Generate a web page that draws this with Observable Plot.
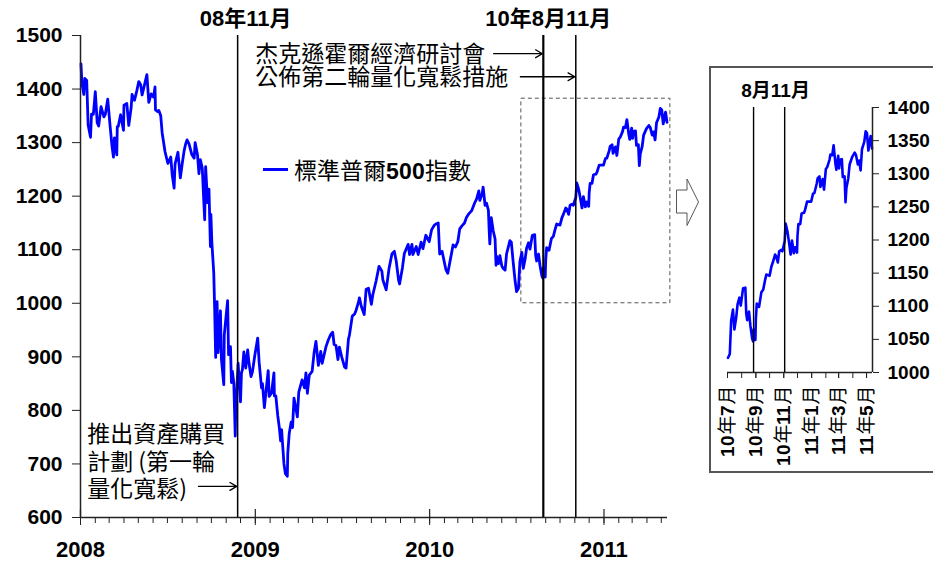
<!DOCTYPE html>
<html><head><meta charset="utf-8">
<script src="https://cdn.jsdelivr.net/npm/d3@7"></script>
<script src="https://cdn.jsdelivr.net/npm/@observablehq/plot@0.6"></script>
<style>
@font-face { font-family: "NumB"; src: local("Liberation Sans Bold"), local("LiberationSans-Bold"); unicode-range: U+0020-007E; }
html,body{margin:0;padding:0;background:#fff;overflow:hidden;width:933px;height:569px}
#wrap{position:relative;width:933px;height:569px;overflow:hidden}
#main{position:absolute;left:0;top:0}
#inset{position:absolute;left:709px;top:66px;width:240px;height:403px;border:2px solid #555;border-right:none;background:#fff}
#legend{position:absolute;left:263px;top:154px;height:30px;font:23px "NumB","Noto Sans CJK TC",sans-serif;display:flex;align-items:center;white-space:nowrap;color:#000}
#legend .sw{display:inline-block;width:25px;height:3px;background:#00f;margin-right:6px}
#bigarrow{position:absolute;left:676px;top:178px}
</style></head>
<body>
<div id="wrap">
  <div id="main"></div>
  <div id="legend"><span class="sw"></span><span id="legendText"></span></div>
  <svg id="bigarrow" width="24" height="49"><polygon points="0.5,12 11,12 11,1 22.5,24 11,47.5 11,35 0.5,35" fill="#fff" stroke="#555" stroke-width="1"/></svg>
  <div id="inset"></div>
</div>
<script>
// ---- data: S&P 500 closes ----
const dates = [
"2008-01-02","2008-01-04","2008-01-08","2008-01-10","2008-01-14","2008-01-17","2008-01-22","2008-01-24","2008-01-28","2008-02-01",
"2008-02-05","2008-02-08","2008-02-13","2008-02-19","2008-02-22","2008-02-27","2008-03-03","2008-03-07","2008-03-10","2008-03-12",
"2008-03-17","2008-03-18","2008-03-20","2008-03-25","2008-03-31","2008-04-01","2008-04-07","2008-04-11","2008-04-16","2008-04-18",
"2008-04-23","2008-04-28","2008-05-02","2008-05-06","2008-05-09","2008-05-13","2008-05-19","2008-05-23","2008-05-28","2008-06-02",
"2008-06-05","2008-06-06","2008-06-10","2008-06-13","2008-06-17","2008-06-20","2008-06-26","2008-07-02","2008-07-08","2008-07-11",
"2008-07-15","2008-07-17","2008-07-23","2008-07-28","2008-08-01","2008-08-05","2008-08-08","2008-08-11","2008-08-15","2008-08-21",
"2008-08-26","2008-08-28","2008-09-02","2008-09-05","2008-09-08","2008-09-12","2008-09-15","2008-09-17","2008-09-19","2008-09-23",
"2008-09-26","2008-09-29","2008-09-30","2008-10-02","2008-10-06","2008-10-08","2008-10-10","2008-10-13","2008-10-15","2008-10-17",
"2008-10-20","2008-10-22","2008-10-24","2008-10-27","2008-10-28","2008-11-04","2008-11-06","2008-11-10","2008-11-12","2008-11-14",
"2008-11-17","2008-11-20","2008-11-21","2008-11-24","2008-11-26","2008-12-01","2008-12-03","2008-12-05","2008-12-08","2008-12-12",
"2008-12-16","2008-12-19","2008-12-23","2008-12-26","2008-12-31",
"2009-01-06","2009-01-09","2009-01-14","2009-01-16","2009-01-20","2009-01-23","2009-01-28","2009-01-30","2009-02-04","2009-02-09",
"2009-02-10","2009-02-13","2009-02-17","2009-02-20","2009-02-23","2009-02-25","2009-03-02","2009-03-05","2009-03-09","2009-03-10",
"2009-03-13","2009-03-17","2009-03-20","2009-03-23","2009-03-30","2009-04-02","2009-04-09","2009-04-14","2009-04-17","2009-04-20",
"2009-04-24","2009-04-30","2009-05-04","2009-05-08","2009-05-13","2009-05-18","2009-05-21","2009-05-29","2009-06-03","2009-06-08",
"2009-06-12","2009-06-15","2009-06-19","2009-06-23","2009-06-26","2009-07-02","2009-07-07","2009-07-10","2009-07-15","2009-07-17",
"2009-07-23","2009-07-28","2009-07-31","2009-08-05","2009-08-07","2009-08-11","2009-08-17","2009-08-21","2009-08-26","2009-09-01",
"2009-09-04","2009-09-11","2009-09-17","2009-09-23","2009-09-25","2009-10-02","2009-10-08","2009-10-14","2009-10-19","2009-10-23",
"2009-10-28","2009-10-30","2009-11-05","2009-11-09","2009-11-17","2009-11-20","2009-11-25","2009-11-27","2009-12-04","2009-12-08",
"2009-12-14","2009-12-18","2009-12-24","2009-12-31",
"2010-01-05","2010-01-11","2010-01-14","2010-01-19","2010-01-22","2010-01-27","2010-02-04","2010-02-08","2010-02-12","2010-02-17",
"2010-02-19","2010-02-24","2010-03-01","2010-03-05","2010-03-10","2010-03-15","2010-03-19","2010-03-24","2010-03-30","2010-04-05",
"2010-04-09","2010-04-14","2010-04-16","2010-04-21","2010-04-23","2010-04-27","2010-04-30","2010-05-04","2010-05-06","2010-05-07",
"2010-05-10","2010-05-14","2010-05-18","2010-05-20","2010-05-21","2010-05-25","2010-05-28","2010-06-01","2010-06-04","2010-06-08",
"2010-06-11","2010-06-18","2010-06-21","2010-06-25","2010-06-29","2010-07-02","2010-07-06","2010-07-09","2010-07-13","2010-07-16",
"2010-07-20","2010-07-23","2010-07-27","2010-07-30","2010-08-04","2010-08-09","2010-08-11","2010-08-13","2010-08-17","2010-08-20",
"2010-08-24","2010-08-26","2010-08-27","2010-08-31","2010-09-01","2010-09-03","2010-09-08","2010-09-13","2010-09-17","2010-09-21",
"2010-09-24","2010-09-28","2010-10-01","2010-10-05","2010-10-08","2010-10-13","2010-10-15","2010-10-19","2010-10-22","2010-10-26",
"2010-10-29","2010-11-03","2010-11-05","2010-11-09","2010-11-12","2010-11-16","2010-11-19","2010-11-23","2010-11-26","2010-11-30",
"2010-12-01","2010-12-03","2010-12-07","2010-12-10","2010-12-15","2010-12-17","2010-12-22","2010-12-27","2010-12-31",
"2011-01-04","2011-01-07","2011-01-12","2011-01-14","2011-01-18","2011-01-20","2011-01-25","2011-01-28","2011-02-01","2011-02-04",
"2011-02-09","2011-02-11","2011-02-15","2011-02-18","2011-02-22","2011-02-24","2011-02-28","2011-03-02","2011-03-04","2011-03-08",
"2011-03-10","2011-03-14","2011-03-16","2011-03-18","2011-03-22","2011-03-25","2011-03-31","2011-04-05","2011-04-08","2011-04-12",
"2011-04-15","2011-04-18","2011-04-21","2011-04-26","2011-04-29","2011-05-02","2011-05-05","2011-05-10","2011-05-13"
];
const closes = [
1447,1411,1390,1420,1416,1333,1310,1353,1353,1395,
1337,1331,1367,1348,1353,1381,1331,1293,1273,1309,
1277,1330,1330,1352,1323,1370,1373,1332,1365,1390,
1379,1397,1414,1408,1389,1404,1427,1375,1391,1385,
1404,1361,1358,1360,1350,1318,1283,1261,1273,1240,
1215,1260,1282,1234,1261,1285,1297,1305,1298,1278,
1271,1300,1277,1242,1268,1252,1193,1156,1255,1188,
1213,1106,1166,1114,1057,985,899,1003,908,940,
986,896,877,848,941,1005,904,919,852,873,
851,752,800,852,888,816,870,876,909,879,
913,887,863,872,903,
935,890,842,850,805,832,874,826,832,870,
827,827,790,770,743,764,700,682,677,720,
757,778,768,823,788,834,857,842,870,832,
866,873,907,929,884,910,888,919,932,942,
946,923,921,895,918,896,881,879,933,940,
976,980,987,1002,1010,994,979,1026,1028,998,
1016,1042,1069,1060,1044,1025,1065,1092,1097,1079,
1043,1036,1066,1093,1110,1091,1110,1091,1106,1091,
1114,1102,1127,1115,
1137,1146,1148,1150,1092,1097,1063,1056,1075,1099,
1109,1105,1115,1139,1145,1150,1160,1167,1173,1187,
1194,1210,1192,1205,1217,1183,1187,1174,1128,1111,
1160,1136,1120,1071,1088,1074,1089,1070,1065,1062,
1092,1117,1114,1076,1041,1022,1028,1078,1095,1065,
1083,1103,1113,1101,1127,1128,1089,1079,1092,1071,
1051,1047,1065,1049,1081,1104,1099,1121,1125,1139,
1148,1147,1146,1160,1166,1178,1176,1166,1183,1185,
1183,1198,1225,1213,1199,1178,1199,1180,1189,1181,
1206,1224,1224,1240,1241,1244,1258,1258,1258,
1270,1271,1285,1293,1296,1280,1292,1276,1307,1310,
1321,1329,1328,1343,1315,1306,1327,1308,1321,1322,
1295,1296,1257,1279,1293,1314,1326,1332,1328,1314,
1320,1305,1337,1348,1364,1361,1335,1357,1338
];
const seriesName = "標準普爾500指數";
const eventDates = ["2008-11-25", "2010-08-27", "2010-11-03"];
const topLabels = ["08年11月", "10年8月11月"];
const insetTopLabel = "8月11月";
const noteQE1 = "推出資產購買\n計劃 (第一輪\n量化寬鬆)";
const noteJH = "杰克遜霍爾經濟研討會";
const noteQE2 = "公佈第二輪量化寬鬆措施";
const mainYTicks = [600, 700, 800, 900, 1000, 1100, 1200, 1300, 1400, 1500];
const yearTicks = ["2008-01-01", "2009-01-01", "2010-01-01", "2011-01-01"];
const yearLabels = ["2008", "2009", "2010", "2011"];
const insetYTicks = [1000, 1050, 1100, 1150, 1200, 1250, 1300, 1350, 1400];
const insetXTicks = ["2010-07-01", "2010-09-01", "2010-11-01", "2011-01-01", "2011-03-01", "2011-05-01"];
const insetXLabels = ["10年7月", "10年9月", "10年11月", "11年1月", "11年3月", "11年5月"];

// ---- build ----
const parse = d3.utcParse("%Y-%m-%d");
const series = dates.map((d, i) => ({date: parse(d), value: closes[i]}));
const [qe1, jh, qe2] = eventDates.map(parse);
const years = yearTicks.map(parse);
const mainStart = parse("2008-01-01"), mainEnd = parse("2011-05-14");
const insetStart = parse("2010-07-01"), insetEnd = parse("2011-05-14");
const months = d3.utcMonth.range(mainStart, mainEnd);
const insetMonths = d3.utcMonth.range(insetStart, insetEnd);
const insetTickDates = insetXTicks.map(parse);
const boxStart = parse("2010-07-12"), boxEnd = parse("2011-05-20");

const LAT = '"Liberation Sans", Arial, "Noto Sans CJK TC", sans-serif';
const CJK = '"Noto Sans CJK TC", "Liberation Sans", sans-serif';
const MIX = '"NumB", "Noto Sans CJK TC", sans-serif';
const plain = d => String(d);

document.getElementById("legendText").textContent = seriesName;

const main = Plot.plot({
  width: 700, height: 569,
  marginLeft: 80, marginRight: 33, marginTop: 35, marginBottom: 52,
  style: {background: "transparent", color: "#000", overflow: "visible"},
  x: {type: "utc", domain: [mainStart, mainEnd]},
  y: {domain: [600, 1500]},
  marks: [
    Plot.rect([{x1: boxStart, x2: boxEnd, y1: 1000, y2: 1382}], {x1: "x1", x2: "x2", y1: "y1", y2: "y2", fill: "none", stroke: "#555", strokeWidth: 1, strokeDasharray: "4,3"}),
    Plot.line(series, {x: "date", y: "value", stroke: "#0000ff", strokeWidth: 2.8}),
    Plot.ruleY([600], {stroke: "#222", strokeWidth: 1.5}),
    Plot.ruleX([mainStart], {stroke: "#222", strokeWidth: 1.5}),
    Plot.axisY({ticks: mainYTicks, tickFormat: plain, tickSize: 8, tickPadding: 10, fontSize: 21, fontWeight: "bold", fontFamily: LAT, label: null, stroke: "#222"}),
    Plot.axisX({ticks: months, tickSize: 6, tickFormat: () => "", label: null, stroke: "#222"}),
    Plot.axisX({ticks: years, tickSize: 8, tickPadding: 16, tickFormat: d => yearLabels[years.findIndex(y => +y === +d)], fontSize: 22, fontWeight: "bold", fontFamily: LAT, label: null, stroke: "#222"}),
    Plot.ruleX(years, {y1: 600, y2: 615, stroke: "#222", strokeWidth: 1.2}),
    Plot.ruleX([qe1, qe2], {stroke: "#000", strokeWidth: 1.5}),
    Plot.ruleX([jh], {stroke: "#000", strokeWidth: 2.2}),
    Plot.text([topLabels[0]], {x: () => qe1, frameAnchor: "top", lineAnchor: "middle", dy: -17, dx: 8, fontSize: 22, fontWeight: "bold", fontFamily: LAT, fill: "#000"}),
    Plot.text([topLabels[1]], {x: () => jh, frameAnchor: "top", lineAnchor: "middle", dy: -17, dx: 5, fontSize: 22, fontWeight: "bold", fontFamily: LAT, fill: "#000"}),
    Plot.text([noteJH], {x: () => years[1], y: () => 1465, textAnchor: "start", lineAnchor: "middle", fontSize: 23, fontFamily: CJK, fill: "#000"}),
    Plot.text([noteQE2], {x: () => years[1], y: () => 1421, textAnchor: "start", lineAnchor: "middle", fontSize: 23, fontFamily: CJK, fill: "#000"}),
    Plot.text([noteQE1], {x: () => parse("2008-01-15"), y: () => 706, textAnchor: "start", lineAnchor: "middle", lineHeight: 1.2, fontSize: 23, fontFamily: CJK, fill: "#000"}),
    Plot.arrow([0], {x1: () => parse("2010-05-15"), x2: () => parse("2010-08-25"), y1: () => 1466, y2: () => 1466, stroke: "#000", strokeWidth: 1.3, headLength: 9}),
    Plot.arrow([0], {x1: () => parse("2010-07-10"), x2: () => parse("2010-11-01"), y1: () => 1423, y2: () => 1423, stroke: "#000", strokeWidth: 1.3, headLength: 9}),
    Plot.arrow([0], {x1: () => parse("2008-09-04"), x2: () => parse("2008-11-23"), y1: () => 658, y2: () => 658, stroke: "#000", strokeWidth: 1.3, headLength: 9})
  ]
});
document.getElementById("main").appendChild(main);

const insetSeries = series.filter(d => d.date >= insetStart);
const inset = Plot.plot({
  width: 222, height: 403,
  marginLeft: 16, marginRight: 61, marginTop: 39, marginBottom: 99,
  style: {background: "transparent", color: "#000", overflow: "visible"},
  x: {type: "utc", domain: [insetStart, insetEnd]},
  y: {domain: [1000, 1400]},
  marks: [
    Plot.line(insetSeries, {x: "date", y: "value", stroke: "#0000ff", strokeWidth: 2.6}),
    Plot.ruleY([1000], {stroke: "#222", strokeWidth: 1.5}),
    Plot.ruleX([insetEnd], {stroke: "#222", strokeWidth: 1.5}),
    Plot.axisY({ticks: insetYTicks, tickFormat: plain, anchor: "right", tickSize: 6, tickPadding: 9, fontSize: 19, fontWeight: "bold", fontFamily: LAT, label: null, stroke: "#222"}),
    Plot.axisX({ticks: insetMonths, tickSize: 6, tickFormat: () => "", label: null, stroke: "#222"}),
    Plot.axisX({ticks: insetTickDates, tickSize: 6, tickPadding: 7, tickRotate: -90, tickFormat: d => insetXLabels[insetTickDates.findIndex(t => +t === +d)], fontSize: 19, fontFamily: MIX, label: null, stroke: "#222"}),
    Plot.ruleX([jh, qe2], {stroke: "#000", strokeWidth: 1.4}),
    Plot.text([insetTopLabel], {x: () => jh, frameAnchor: "top", lineAnchor: "middle", dy: -17, dx: 22, fontSize: 19, fontWeight: "bold", fontFamily: LAT, fill: "#000"})
  ]
});
document.getElementById("inset").appendChild(inset);
</script>
</body></html>
